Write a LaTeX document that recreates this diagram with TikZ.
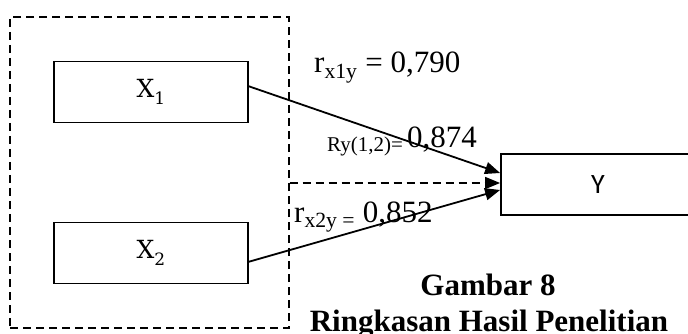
\documentclass[tikz,border=0pt]{standalone}
\usepackage{fontspec}
\setmainfont{Liberation Serif}
\newfontfamily\ysans{Carlito}
\newfontfamily\xserif{DejaVu Serif}
\usetikzlibrary{arrows.meta}
\newcommand{\xlab}[1]{{\fontsize{25}{28}\selectfont\xserif X\raisebox{-0.3em}{\fontsize{17}{20}\selectfont #1}}}
\begin{document}
\begin{tikzpicture}[x=1pt,y=-1pt,
  box/.style={draw,line width=1.8pt,minimum width=194pt,minimum height=61pt,inner sep=0pt},
  dsh/.style={line width=1.5pt,dash pattern=on 8pt off 5pt},
  conn/.style={line width=1.8pt,-{Triangle[length=15pt,width=12pt]}},
  big/.style={font=\fontsize{31}{36}\selectfont,inner sep=0pt},
  small/.style={font=\fontsize{21}{24}\selectfont,inner sep=0pt}]
\clip (0,0) rectangle (688,334);
\node[draw,dsh,minimum width=279pt,minimum height=311pt,inner sep=0pt] (grp) at (149.5,172.5) {};
\node[box] (x1) at (151,92) {\xlab{1}};
\node[box] (x2) at (151,253) {\xlab{2}};
\node[box,minimum width=194pt] (y) at (598,184.5) {\fontsize{28}{30}\selectfont\ysans Y};
\coordinate (s1) at (248,86);
\coordinate (s2) at (248,262);
\coordinate (sd) at (289.5,183);
\draw[conn] (s1) -- (y.west |- 0,173);
\draw[conn] (s2) -- (y.west |- 0,190);
\draw[dsh,-{Triangle[length=15pt,width=12pt]}] (sd) -- (y.west |- 0,183);
\node[big,anchor=base west] (l1) at (314,73) {r\textsubscript{x1y} = 0,790};
\node[small,anchor=base west] (l2a) at (327,152) {Ry(1,2)=};
\node[big,anchor=base west] (l2b) at (407,148) {0,874};
\node[big,anchor=base west] (l3) at (294,222) {r\textsubscript{x2y =} 0,852};
\node[big,anchor=base,font=\fontsize{31}{36}\selectfont\bfseries] (c1) at (488,295) {Gambar 8};
\node[big,anchor=base,font=\fontsize{31}{36}\selectfont\bfseries] (c2) at (489,331) {Ringkasan Hasil Penelitian};
\end{tikzpicture}
\end{document}
